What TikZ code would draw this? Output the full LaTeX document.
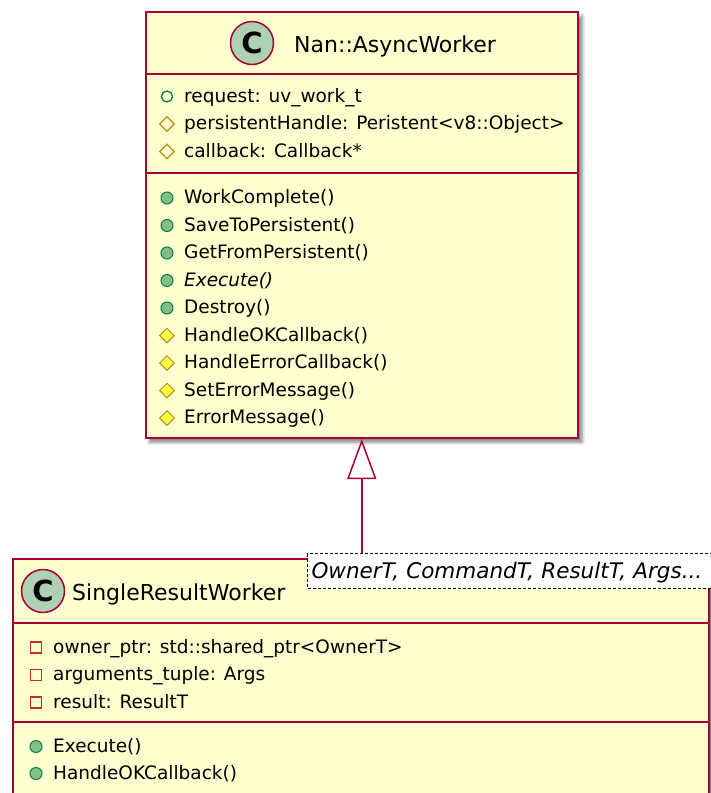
\documentclass[tikz,border=0pt]{standalone}
\usepackage{fontspec}
\setmainfont{DejaVu Sans}
\usetikzlibrary{arrows.meta,shapes.geometric,shadows.blur}

\definecolor{umlborder}{HTML}{A80036}
\definecolor{umlfill}{HTML}{FEFECE}
\definecolor{umlcircle}{HTML}{ADD1B2}
\definecolor{iconpub}{HTML}{038048}
\definecolor{iconpubfill}{HTML}{84BE84}
\definecolor{iconprot}{HTML}{B38D22}
\definecolor{iconprotfill}{HTML}{FFFF44}
\definecolor{iconpriv}{HTML}{C82930}

\newcommand\memberfont{\fontsize{18.5}{22}\selectfont}
\newcommand\titlefont{\fontsize{22}{26}\selectfont}

\begin{document}
\begin{tikzpicture}[
    x=1pt, y=-1pt,
    classbox/.style={rectangle, draw=umlborder, line width=2pt, fill=umlfill,
        blur shadow={shadow xshift=4pt, shadow yshift=-4pt, shadow blur radius=3.5pt, shadow opacity=50}},
    classrule/.style={draw=umlborder, line width=2pt},
    classmark/.style={circle, draw=umlborder, line width=1.5pt, fill=umlcircle, minimum size=43pt, inner sep=0pt, font=\fontsize{29}{29}\selectfont\bfseries},
    classname/.style={anchor=base west, inner sep=0pt, font=\titlefont},
    member/.style={anchor=base west, inner sep=0pt, text height=11pt, text depth=0pt, font=\memberfont},
    pubfield/.style={circle, draw=iconpub, line width=1.3pt, minimum size=11pt, inner sep=0pt},
    pubmeth/.style={circle, draw=iconpub, fill=iconpubfill, line width=1pt, minimum size=12pt, inner sep=0pt},
    protfield/.style={diamond, draw=iconprot, line width=1.3pt, minimum size=15pt, inner sep=0pt},
    protmeth/.style={diamond, draw=iconprot, fill=iconprotfill, line width=1pt, minimum size=15pt, inner sep=0pt},
    privfield/.style={rectangle, draw=iconpriv, line width=1.3pt, minimum size=11pt, inner sep=0pt},
    template/.style={rectangle, draw=black, fill=white, line width=1pt, dash pattern=on 3pt off 2pt,
        inner xsep=4pt, text height=17pt, text depth=2pt, font=\fontsize{21.5}{24}\selectfont\itshape},
    extends/.style={draw=umlborder, line width=1.5pt, -{Triangle[length=40pt, width=29pt, fill=white]}}
    ]
    \useasboundingbox (0,0) rectangle (711,793);

    % base class
    \node [classbox, minimum width=432.5pt, minimum height=426pt] (worker) at (361.75,225) {};
    \draw [classrule] (worker.west |- 0,74) -- (worker.east |- 0,74);
    \draw [classrule] (worker.west |- 0,173) -- (worker.east |- 0,173);
    \node [classmark] (workerc) at (252,43) {C};
    \node [classname] (workername) at (294,52) {Nan::AsyncWorker};

    \node [member] (wa1) at (184,102) {request: uv\_work\_t};
    \node [pubfield, xshift=-17pt] (wa1i) at (wa1.west) {};
    \node [member] (wa2) at (184,129.5) {persistentHandle: Peristent<v8::Object>};
    \node [protfield, xshift=-17pt] (wa2i) at (wa2.west) {};
    \node [member] (wa3) at (184,157) {callback: Callback*};
    \node [protfield, xshift=-17pt] (wa3i) at (wa3.west) {};

    \node [member] (wm1) at (184,203.5) {WorkComplete()};
    \node [pubmeth, xshift=-17pt] (wm1i) at (wm1.west) {};
    \node [member] (wm2) at (184,231) {SaveToPersistent()};
    \node [pubmeth, xshift=-17pt] (wm2i) at (wm2.west) {};
    \node [member] (wm3) at (184,258.5) {GetFromPersistent()};
    \node [pubmeth, xshift=-17pt] (wm3i) at (wm3.west) {};
    \node [member] (wm4) at (184,286) {\itshape Execute()};
    \node [pubmeth, xshift=-17pt] (wm4i) at (wm4.west) {};
    \node [member] (wm5) at (184,313.5) {Destroy()};
    \node [pubmeth, xshift=-17pt] (wm5i) at (wm5.west) {};
    \node [member] (wm6) at (184,341) {HandleOKCallback()};
    \node [protmeth, xshift=-17pt] (wm6i) at (wm6.west) {};
    \node [member] (wm7) at (184,368.5) {HandleErrorCallback()};
    \node [protmeth, xshift=-17pt] (wm7i) at (wm7.west) {};
    \node [member] (wm8) at (184,396) {SetErrorMessage()};
    \node [protmeth, xshift=-17pt] (wm8i) at (wm8.west) {};
    \node [member] (wm9) at (184,423.5) {ErrorMessage()};
    \node [protmeth, xshift=-17pt] (wm9i) at (wm9.west) {};

    % derived template class
    \node [classbox, minimum width=696pt, minimum height=272pt] (srw) at (361,695) {};
    \draw [classrule] (srw.west |- 0,623) -- (srw.east |- 0,623);
    \draw [classrule] (srw.west |- 0,722) -- (srw.east |- 0,722);
    \node [classmark] (srwc) at (43,591) {C};
    \node [classname] (srwname) at (72,600) {SingleResultWorker};

    \node [member] (sa1) at (53,653) {owner\_ptr: std::shared\_ptr<OwnerT>};
    \node [privfield, xshift=-17pt] (sa1i) at (sa1.west) {};
    \node [member] (sa2) at (53,680.5) {arguments\_tuple: Args};
    \node [privfield, xshift=-17pt] (sa2i) at (sa2.west) {};
    \node [member] (sa3) at (53,708) {result: ResultT};
    \node [privfield, xshift=-17pt] (sa3i) at (sa3.west) {};

    \node [member] (sm1) at (53,752) {Execute()};
    \node [pubmeth, xshift=-17pt] (sm1i) at (sm1.west) {};
    \node [member] (sm2) at (53,779) {HandleOKCallback()};
    \node [pubmeth, xshift=-17pt] (sm2i) at (sm2.west) {};

    \node [template, anchor=north west, minimum height=35pt, text width=402pt, align=left] (srwtpl) at (307,553) {OwnerT, CommandT, ResultT, Args...};

    \draw [extends] (worker.south |- srwtpl.north) -- (worker.south);
\end{tikzpicture}
\end{document}
